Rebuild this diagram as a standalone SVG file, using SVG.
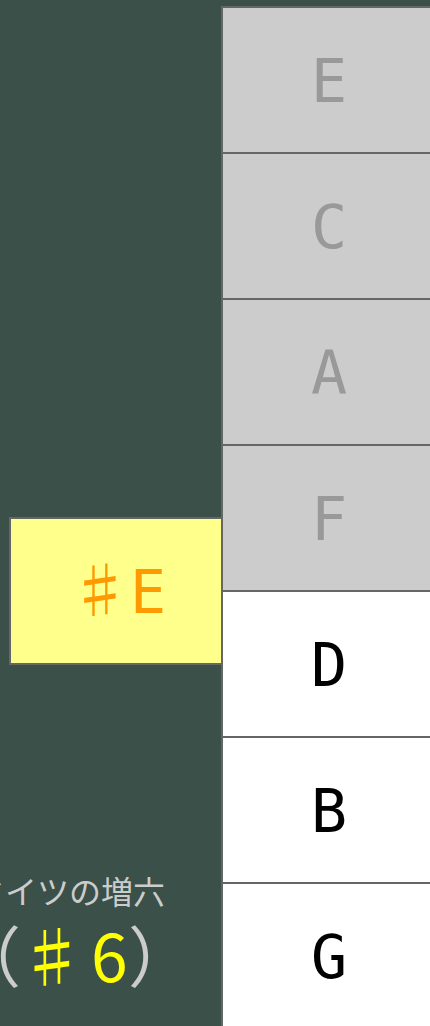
<svg xmlns="http://www.w3.org/2000/svg" width="430" height="1026" viewBox="0 0 430 1026">
<style>
.cell{stroke:#666;stroke-width:2}
.g{fill:#ccc}
.w{fill:#fff}
.lt{font-family:"DejaVu Sans Mono","Noto Sans CJK JP",monospace;font-size:60px;text-anchor:middle}
.gt{fill:#999}
.bt{fill:#000}
.jp{font-family:"Noto Sans CJK JP","Noto Sans",sans-serif}
</style>
<rect x="0" y="0" width="430" height="1026" fill="#3a5048"/>
<g id="connectors"/>
<g id="cell-E"><rect class="cell g" x="222" y="7" width="214" height="146"/><text class="lt gt" x="329" y="102">E</text></g>
<g id="cell-C"><rect class="cell g" x="222" y="153" width="214" height="146"/><text class="lt gt" x="329" y="248">C</text></g>
<g id="cell-A"><rect class="cell g" x="222" y="299" width="214" height="146"/><text class="lt gt" x="329" y="394">A</text></g>
<g id="cell-F"><rect class="cell g" x="222" y="445" width="214" height="146"/><text class="lt gt" x="329" y="540">F</text></g>
<g id="cell-D"><rect class="cell w" x="222" y="591" width="214" height="146"/><text class="lt bt" x="329" y="686">D</text></g>
<g id="cell-B"><rect class="cell w" x="222" y="737" width="214" height="146"/><text class="lt bt" x="329" y="832">B</text></g>
<g id="cell-G"><rect class="cell w" x="222" y="883" width="214" height="146"/><text class="lt bt" x="329" y="978">G</text></g>
<g id="sharpE"><rect class="cell" fill="#ffff8c" x="10" y="518" width="212" height="146"/><text class="lt" fill="#ff9900" x="70" y="613" style="text-anchor:start"><tspan class="jp">♯</tspan>E</text></g>
<g id="label">
<text class="jp" x="165" y="904" font-size="32" fill="#ccc" text-anchor="end">ドイツの増六</text>
<text class="jp" y="982" font-size="66"><tspan x="-45" fill="#ccc">（</tspan><tspan x="19" fill="#ffff00">♯</tspan><tspan x="91" fill="#ffff00">6</tspan><tspan x="128" fill="#ccc">）</tspan></text>
</g>
</svg>
